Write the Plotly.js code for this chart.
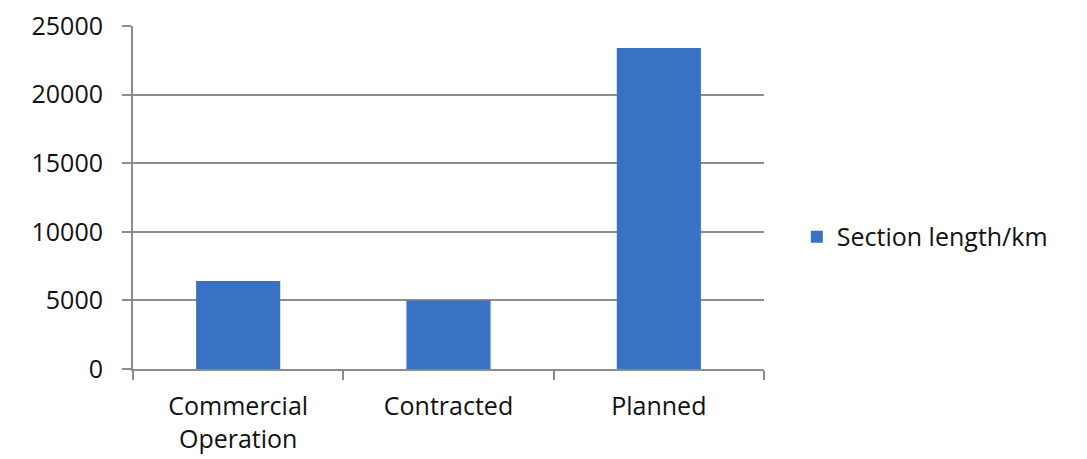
<!DOCTYPE html>
<html>
<head>
<meta charset="utf-8">
<script src="https://cdn.plot.ly/plotly-3.0.1.min.js"></script>
<style>
  html, body { margin: 0; padding: 0; background: #fff; }
  #chart { width: 1087px; height: 459px; }
</style>
</head>
<body>
<div id="chart"></div>
<script>
// Railway sections by status, length in km
const categories = ["Commercial<br>Operation", "Contracted", "Planned"];
const sectionLength = [6420, 5000, 23400];
const seriesName = "Section length/km";
const yTicks = [0, 5000, 10000, 15000, 20000, 25000];

const gridGrey = "#8c8c8c";
const barBlue = "#3a72c3";
const fontFamily = "'Open Sans', Lato, sans-serif";

const trace = {
  type: "bar",
  x: categories,
  y: sectionLength,
  name: seriesName,
  marker: { color: barBlue },
  showlegend: true,
  hoverinfo: "x+y"
};

const layout = {
  width: 1087,
  height: 459,
  margin: { l: 133, r: 323, t: 26, b: 90 },
  paper_bgcolor: "#fff",
  plot_bgcolor: "#fff",
  font: { family: fontFamily, size: 25, color: "#111" },
  bargap: 0.6,
  showlegend: true,
  legend: {
    x: 1.052, xanchor: "left",
    y: 0.385, yanchor: "middle",
    font: { family: fontFamily, size: 25, color: "#111" },
    bgcolor: "rgba(0,0,0,0)"
  },
  xaxis: {
    type: "category",
    tickson: "boundaries",
    ticks: "outside",
    ticklen: 9,
    tickwidth: 2,
    tickcolor: gridGrey,
    ticklabelstandoff: 14,
    tickfont: { family: fontFamily, size: 25, color: "#111" },
    showgrid: false,
    showline: true,
    linecolor: gridGrey,
    linewidth: 2,
    zeroline: false,
    fixedrange: true
  },
  yaxis: {
    range: [0, 25000],
    tickvals: yTicks,
    ticktext: yTicks.map(String),
    ticks: "outside",
    ticklen: 9,
    tickwidth: 2,
    tickcolor: gridGrey,
    ticklabelstandoff: 14,
    tickfont: { family: fontFamily, size: 25, color: "#111" },
    showgrid: true,
    gridcolor: gridGrey,
    gridwidth: 2,
    showline: true,
    linecolor: gridGrey,
    linewidth: 2,
    zeroline: false,
    fixedrange: true
  }
};

Plotly.newPlot("chart", [trace], layout, { displayModeBar: false, staticPlot: true });
</script>
</body>
</html>
